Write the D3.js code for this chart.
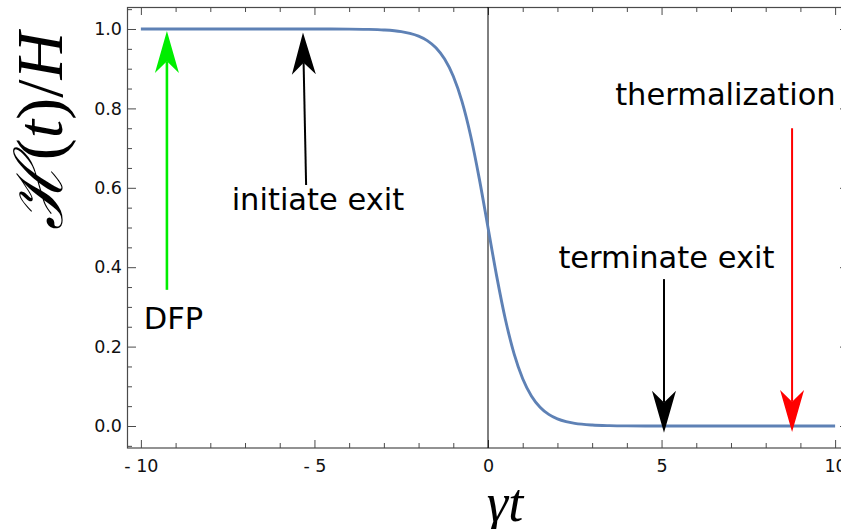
<!DOCTYPE html>
<html><head><meta charset="utf-8">
<script src="https://cdn.jsdelivr.net/npm/d3@7"></script>
<style>
html,body{margin:0;padding:0;background:#fff;}
svg{display:block;}
</style></head>
<body>
<svg id="chart" width="841" height="529"></svg>
<script>
// ---- data ----
const tValues = [-10, -8, -6, -5, -4, -3.5, -3, -2.5, -2.25, -2, -1.75, -1.5, -1.25, -1, -0.75, -0.5, -0.25, 0, 0.25, 0.5, 0.75, 1, 1.25, 1.5, 1.75, 2, 2.25, 2.5, 3, 3.5, 4, 5, 6, 8, 10];
const hValues = [1.0, 1.0, 1.0, 0.99995, 0.99966, 0.99909, 0.99753, 0.99331, 0.98901, 0.98201, 0.97069, 0.95257, 0.92414, 0.8808, 0.81757, 0.73106, 0.62246, 0.5, 0.37754, 0.26894, 0.18243, 0.1192, 0.07586, 0.04743, 0.02931, 0.01799, 0.01099, 0.00669, 0.00247, 0.00091, 0.00034, 0.00005, 0.0, 0.0, 0.0];
const xMajorTicks = [-10, -5, 0, 5, 10];
const xTickLabels = ["- 10", "- 5", "0", "5", "10"];
const yMajorTicks = [0, 0.2, 0.4, 0.6, 0.8, 1.0];
const yTickLabels = ["0.0", "0.2", "0.4", "0.6", "0.8", "1.0"];
const arrowLabels = ["DFP", "initiate exit", "terminate exit", "thermalization"];
const arrowFromX = [-9.25, -5.24, 5.07, 8.76];
const arrowFromY = [0.343, 0.607, 0.37, 0.75];
const arrowToX = [-9.25, -5.33, 5.07, 8.76];
const arrowToY = [0.995, 0.991, -0.017, -0.015];
const labelX = [-9.06, -4.9, 5.14, 6.84];
const labelY = [0.244, 0.544, 0.398, 0.808];
const arrowColors = ["#00ee00", "#000000", "#000000", "#ff0000"];

// ---- scales ----
const svg = d3.select("#chart");
const x = d3.scaleLinear().domain([-10.4, 10.4]).range([127, 849]);
const y = d3.scaleLinear().domain([-0.0554, 1.0554]).range([448, 7]);
const frameColor = "#4a4a4a";

const xMinor = d3.range(-10, 11, 1).filter(v => !xMajorTicks.includes(v));
const yMinor = d3.range(-1, 22).map(i => +(i * 0.05).toFixed(2)).filter(v => !yMajorTicks.some(m => Math.abs(m - v) < 1e-9));

function styleAxis(g) {
  g.select(".domain").remove();
  g.selectAll(".tick line").attr("stroke", frameColor).attr("stroke-width", 1);
  g.selectAll(".tick text").attr("fill", "#111").attr("font-family", "DejaVu Sans").attr("font-size", 17.5);
}

// bottom
svg.append("g").attr("transform", "translate(0,448)")
  .call(d3.axisBottom(x).tickValues(xMajorTicks).tickSize(-8).tickPadding(12)
    .tickFormat((d, i) => xTickLabels[i])).call(styleAxis);
svg.append("g").attr("transform", "translate(0,448)")
  .call(d3.axisBottom(x).tickValues(xMinor).tickSize(-5).tickFormat("")).call(styleAxis);
// top
svg.append("g").attr("transform", "translate(0,7)")
  .call(d3.axisTop(x).tickValues(xMajorTicks).tickSize(-8).tickFormat("")).call(styleAxis);
svg.append("g").attr("transform", "translate(0,7)")
  .call(d3.axisTop(x).tickValues(xMinor).tickSize(-5).tickFormat("")).call(styleAxis);
// left
svg.append("g").attr("transform", "translate(127,0)")
  .call(d3.axisLeft(y).tickValues(yMajorTicks).tickSize(-9).tickPadding(5)
    .tickFormat((d, i) => yTickLabels[i])).call(styleAxis);
svg.append("g").attr("transform", "translate(127,0)")
  .call(d3.axisLeft(y).tickValues(yMinor).tickSize(-5).tickFormat("")).call(styleAxis);
// right
svg.append("g").attr("transform", "translate(849,0)")
  .call(d3.axisRight(y).tickValues(yMajorTicks).tickSize(-9).tickFormat("")).call(styleAxis);
svg.append("g").attr("transform", "translate(849,0)")
  .call(d3.axisRight(y).tickValues(yMinor).tickSize(-5).tickFormat("")).call(styleAxis);

// frame
svg.append("rect").attr("x", 127.5).attr("y", 7.5).attr("width", 849 - 127.5).attr("height", 448 - 7.5)
  .attr("fill", "none").attr("stroke", frameColor).attr("stroke-width", 1.2);

// vertical axis line at t = 0
svg.append("line").attr("x1", x(0)).attr("x2", x(0)).attr("y1", y(1.0554)).attr("y2", y(-0.0554))
  .attr("stroke", "#000").attr("stroke-width", 1);

// curve
const pts = tValues.map((t, i) => [t, hValues[i]]);
svg.append("path").datum(pts)
  .attr("d", d3.line().x(d => x(d[0])).y(d => y(d[1])).curve(d3.curveMonotoneX))
  .attr("fill", "none").attr("stroke", "#5e81b5").attr("stroke-width", 2.9);

// arrows
const L = 42, W = 12, N = 0.72;
arrowLabels.forEach((lab, i) => {
  const x1 = x(arrowFromX[i]), y1 = y(arrowFromY[i]);
  const x2 = x(arrowToX[i]), y2 = y(arrowToY[i]);
  const dx = x2 - x1, dy = y2 - y1, len = Math.hypot(dx, dy);
  const ux = dx / len, uy = dy / len, px = -uy, py = ux;
  const bx = x2 - ux * L, by = y2 - uy * L;
  const nx = x2 - ux * L * N, ny = y2 - uy * L * N;
  svg.append("line").attr("x1", x1).attr("y1", y1).attr("x2", nx).attr("y2", ny)
    .attr("stroke", arrowColors[i]).attr("stroke-width", i === 0 ? 2.6 : 2);
  svg.append("path")
    .attr("d", `M${x2},${y2}L${bx + px * W},${by + py * W}L${nx},${ny}L${bx - px * W},${by - py * W}Z`)
    .attr("fill", arrowColors[i]);
  svg.append("text").attr("x", x(labelX[i])).attr("y", y(labelY[i]))
    .attr("text-anchor", "middle").attr("font-family", "DejaVu Sans").attr("font-size", 30.5)
    .attr("fill", "#000").text(lab);
});

// axis titles
const xt = svg.append("text").attr("x", 505).attr("y", 521).attr("text-anchor", "middle")
  .attr("font-family", "Liberation Serif").attr("font-style", "italic").attr("font-size", 54);
xt.text("γt");

const yt = svg.append("text").attr("transform", "translate(62,131) rotate(-90)").attr("text-anchor", "middle")
  .attr("font-family", "Liberation Serif").attr("font-size", 66);
yt.append("tspan").attr("font-style", "italic").text("ℋ");
yt.append("tspan").text("(");
yt.append("tspan").attr("font-style", "italic").text("t");
yt.append("tspan").text(")/");
yt.append("tspan").attr("font-style", "italic").text("H");
</script>
</body></html>
